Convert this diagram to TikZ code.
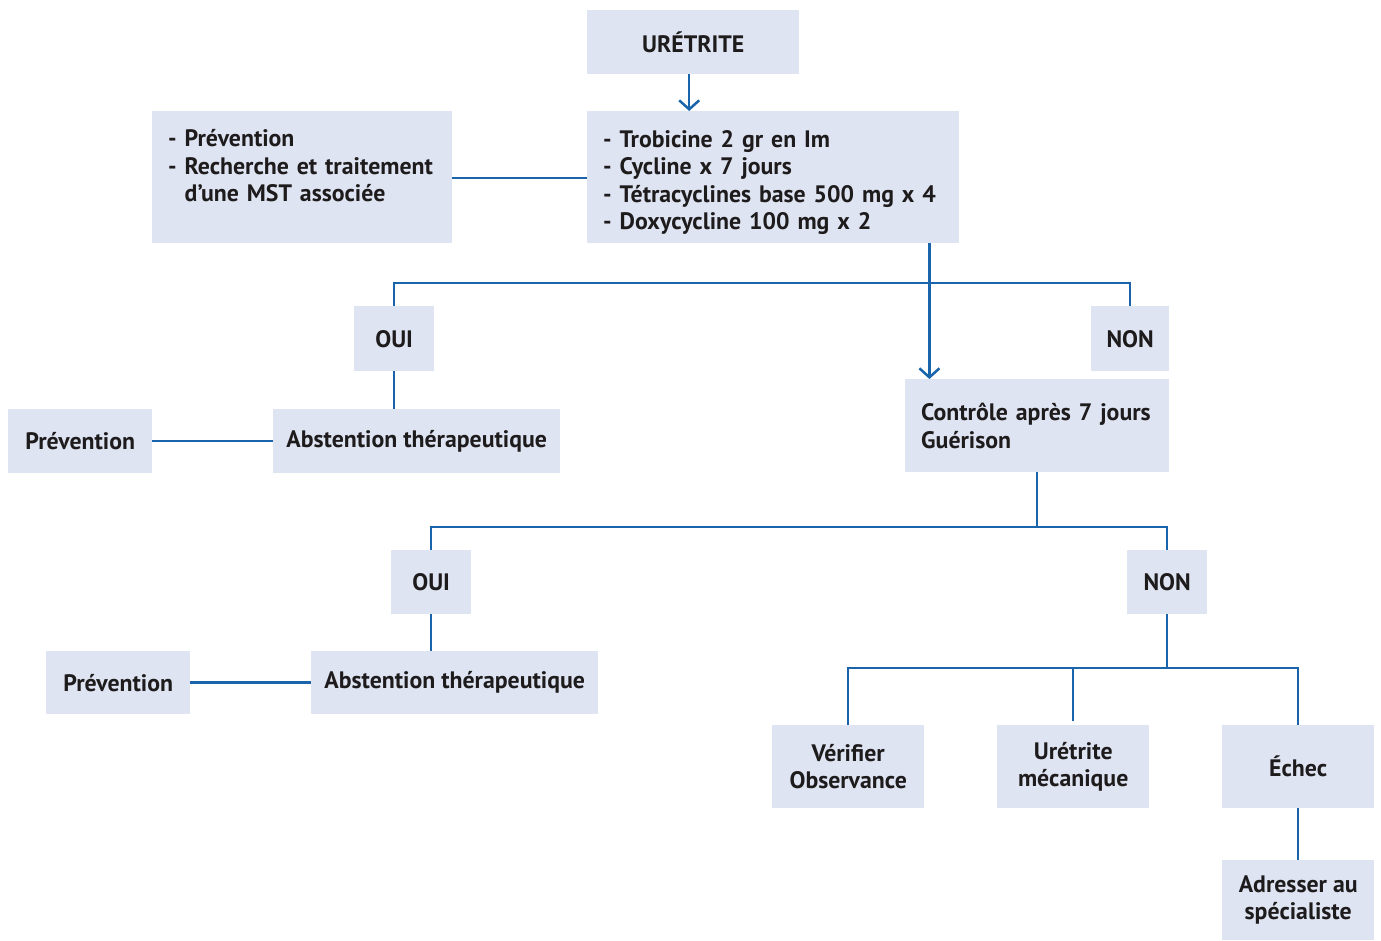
\documentclass[tikz,border=0pt]{standalone}
\usepackage{fontspec}
\setmainfont{PT Sans}
\usetikzlibrary{arrows.meta,calc}
\definecolor{boxfill}{RGB}{223,228,242}
\definecolor{lineblue}{RGB}{25,100,170}
\definecolor{txt}{RGB}{30,27,28}
\begin{document}
\begin{tikzpicture}[x=1pt,y=-1pt,
  box/.style={fill=boxfill, anchor=north west, inner sep=0pt, text=txt,
    font=\bfseries\fontsize{23.8}{27.5}\selectfont, align=center},
  lbox/.style={box, align=left, inner xsep=16pt},
  conn/.style={draw=lineblue, line width=2.5pt},
  arr/.style={conn, -{Straight Barb[length=9pt,width=20pt,line width=2.5pt]}}
]
\useasboundingbox (0,0) rectangle (1381,940);

\node[box, minimum width=212pt, minimum height=64pt] (uret) at (587,10) {URÉTRITE};
\node[lbox, minimum width=372pt, minimum height=132pt, text width=340pt] (treat) at (587,111)
  {\rule{0pt}{28pt}- Trobicine 2 gr en Im\\- Cycline x 7 jours\\- Tétracyclines base 500 mg x 4\\- Doxycycline 100 mg x 2};
\node[lbox, minimum width=300pt, minimum height=132pt, text width=268pt] (prev0) at (152,111)
  {- Prévention\\- Recherche et traitement\\\hphantom{- }d’une MST associée\\[-4pt]\mbox{}};

\node[box, minimum width=80pt, minimum height=65pt] (oui1) at (354,306) {OUI};
\node[box, minimum width=78pt, minimum height=65pt] (non1) at (1091,306) {NON};
\node[box, minimum width=144pt, minimum height=64pt] (prev1) at (8,409) {Prévention};
\node[box, minimum width=287pt, minimum height=64pt] (abst1) at (273,409) {Abstention thérapeutique};
\node[lbox, minimum width=264pt, minimum height=93pt, text width=232pt] (ctrl) at (905,379)
  {Contrôle après 7 jours\\Guérison};

\node[box, minimum width=80pt, minimum height=64pt] (oui2) at (391,550) {OUI};
\node[box, minimum width=80pt, minimum height=64pt] (non2) at (1127,550) {NON};
\node[box, minimum width=144pt, minimum height=63pt] (prev2) at (46,651) {Prévention};
\node[box, minimum width=287pt, minimum height=63pt] (abst2) at (311,651) {Abstention thérapeutique};

\node[box, minimum width=152pt, minimum height=83pt] (verif) at (772,725) {Vérifier\\Observance};
\node[box, minimum width=152pt, minimum height=83pt] (meca) at (997,725) {Urétrite\\mécanique};
\node[box, minimum width=152pt, minimum height=83pt] (echec) at (1222,725) {Échec};
\node[box, minimum width=152pt, minimum height=80pt] (spec) at (1222,860) {Adresser au\\spécialiste};

% connectors
\draw[arr] ($(uret.south)+(-4,0)$) coordinate (a1) -- (a1 |- treat.north);
\draw[conn] (prev0.east |- 0,178) -- (treat.west |- 0,178);
\draw[arr] ($(treat.south east)+(-30,0)$) coordinate (a2) -- (a2 |- ctrl.north);
\draw[conn] (oui1.north) -- ++(0,-23) -| (non1.north);
\draw[conn] (oui1.south) -- (oui1.south |- abst1.north);
\draw[conn] (prev1.east) -- (abst1.west);
\draw[conn] (ctrl.south) -- ++(0,55) coordinate (b1);
\draw[conn] (oui2.north) -- ++(0,-23) -| (non2.north);
\draw[conn] (oui2.south) -- (oui2.south |- abst2.north);
\draw[conn] (prev2.east) -- (abst2.west);
\draw[conn] (non2.south) -- ++(0,54) coordinate (b2);
\draw[conn] (verif.north) -- ++(0,-57) -| (echec.north);
\draw[conn] (meca.north) ++(0,-4) -- (meca.north |- b2);
\draw[conn] (echec.south) -- (spec.north);
\end{tikzpicture}
\end{document}
